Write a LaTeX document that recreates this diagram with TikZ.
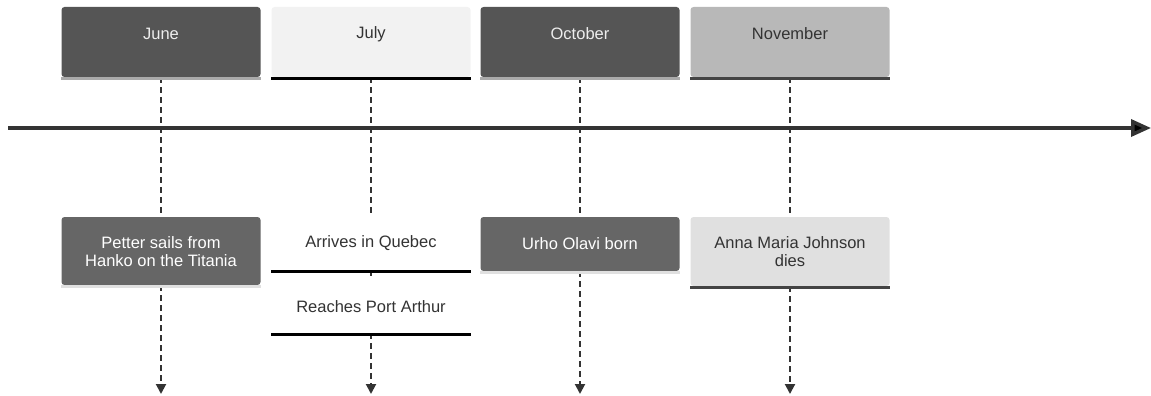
\documentclass[tikz,border=0pt]{standalone}
\usepackage{fontspec}
\setmainfont{Liberation Sans}
\usetikzlibrary{arrows.meta}
\definecolor{dark}{HTML}{555555}
\definecolor{mid}{HTML}{666666}
\definecolor{pale}{HTML}{F2F2F2}
\definecolor{grey}{HTML}{B8B8B8}
\definecolor{light}{HTML}{E0E0E0}
\definecolor{ink}{HTML}{333333}
\definecolor{edgelight}{HTML}{AAAAAA}
\definecolor{edgedark}{HTML}{444444}
\tikzset{
  box/.style={draw=none, rounded corners=3pt, minimum width=199pt, inner sep=0pt},
  txt/.style={font=\fontsize{16.5}{18}\selectfont, align=center, inner sep=0pt},
  bottomedge/.style={line width=3pt},
  dashline/.style={draw=ink, line width=2pt, dash pattern=on 6pt off 4pt},
  dasharrow/.style={dashline, -{Triangle[width=10pt,length=10pt]}},
}
\begin{document}
\begin{tikzpicture}[x=1pt,y=-1pt]
\useasboundingbox (0,0) rectangle (1151,396);
% end coordinates
\coordinate (e1) at (161,394);
\coordinate (e2) at (371,394);
\coordinate (e3) at (580,394);
\coordinate (e4) at (790,394);
% headers
\node[box, fill=dark, minimum height=70pt] (h1) at (161,42) {};
\node[box, fill=pale, minimum height=70pt] (h2) at (371,42) {};
\node[box, fill=dark, minimum height=70pt] (h3) at (580,42) {};
\node[box, fill=grey, minimum height=70pt] (h4) at (790,42) {};
% events
\node[box, fill=mid, minimum height=68pt] (v1) at (161,251) {};
\node[box, fill=white, minimum height=53pt] (v2) at (371,243.5) {};
\node[box, fill=white, minimum height=53pt] (v3) at (371,306.5) {};
\node[box, fill=mid, minimum height=54pt] (v4) at (580,244) {};
\node[box, fill=light, minimum height=69pt] (v5) at (790,251.5) {};
% dashed connectors
\draw[dashline] (h1.south) -- (v1.north);
\draw[dasharrow] (v1.south) -- (e1);
\draw[dashline] (h2.south) -- (v2.north);
\draw[dashline] (v2.south) -- (v3.north);
\draw[dasharrow] (v3.south) -- (e2);
\draw[dashline] (h3.south) -- (v4.north);
\draw[dasharrow] (v4.south) -- (e3);
\draw[dashline] (h4.south) -- (v5.north);
\draw[dasharrow] (v5.south) -- (e4);
% bottom edges
\draw[bottomedge, draw=edgelight] ([yshift=-1.5pt]h1.south west) -- ([yshift=-1.5pt]h1.south east);
\draw[bottomedge, draw=black] ([yshift=-1.5pt]h2.south west) -- ([yshift=-1.5pt]h2.south east);
\draw[bottomedge, draw=edgelight] ([yshift=-1.5pt]h3.south west) -- ([yshift=-1.5pt]h3.south east);
\draw[bottomedge, draw=edgedark] ([yshift=-1.5pt]h4.south west) -- ([yshift=-1.5pt]h4.south east);
\draw[bottomedge, draw=light] ([yshift=-1.5pt]v1.south west) -- ([yshift=-1.5pt]v1.south east);
\draw[bottomedge, draw=black] ([yshift=-1.5pt]v2.south west) -- ([yshift=-1.5pt]v2.south east);
\draw[bottomedge, draw=black] ([yshift=-1.5pt]v3.south west) -- ([yshift=-1.5pt]v3.south east);
\draw[bottomedge, draw=light] ([yshift=-1.5pt]v4.south west) -- ([yshift=-1.5pt]v4.south east);
\draw[bottomedge, draw=edgedark] ([yshift=-1.5pt]v5.south west) -- ([yshift=-1.5pt]v5.south east);
% texts
\node[txt, text=white!93!black] (t1) at (161,34) {June};
\node[txt, text=ink] (t2) at (371,34) {July};
\node[txt, text=white!93!black] (t3) at (580,34) {October};
\node[txt, text=ink] (t4) at (790,34) {November};
\node[txt, text=white] (u1) at (161,252) {Petter sails from\\Hanko on the Titania};
\node[txt, text=ink] (u2) at (371,243.5) {Arrives in Quebec};
\node[txt, text=ink] (u3) at (371,306.5) {Reaches Port Arthur};
\node[txt, text=white] (u4) at (580,243.5) {Urho Olavi born};
\node[txt, text=ink] (u5) at (790,252) {Anna Maria Johnson\\dies};
% main axis
\coordinate (a0) at (8,128);
\coordinate (a1) at (1151,128);
\draw[line width=3.5pt, draw=ink, -{Triangle[width=17pt,length=20pt,fill=black]}] (a0) -- (a1);
\end{tikzpicture}
\end{document}
